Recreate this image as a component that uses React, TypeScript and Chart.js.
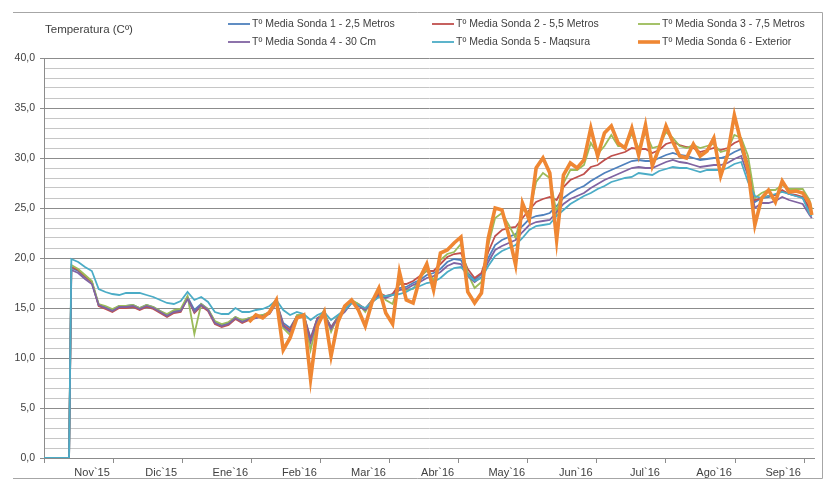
import React, { useEffect, useRef } from 'react';
import { Chart, registerables } from 'chart.js';

Chart.register(...registerables);

// Days counted from the start of the x axis (early October 2015)
const days = [
  0, 11,
  12, 15, 18, 21, 24, 27, 30, 33, 36, 39,
  42, 45, 48, 51, 54, 57, 60, 63, 66, 69,
  72, 75, 78, 81, 84, 87, 90, 93, 96, 99,
  102, 105, 108, 111, 114, 117, 120, 123, 126, 129,
  132, 135, 138, 141, 144, 147, 150, 153, 156, 159,
  162, 165, 168, 171, 174, 177, 180, 183, 186, 189,
  192, 195, 198, 201, 204, 207, 210, 213, 216, 219,
  222, 225, 228, 231, 234, 237, 240, 243, 246, 249,
  252, 255, 258, 261, 264, 267, 270, 273, 276, 279,
  282, 285, 288, 291, 294, 297, 300, 303, 306, 309,
  312, 315, 318, 321, 324, 327, 330, 333, 336,
  337,
];

const sonda1 = [
  0, 0,
  19.0, 18.7, 18.1, 17.6, 15.3, 15.1, 14.8, 15.2, 15.2, 15.3,
  15.0, 15.3, 15.1, 14.7, 14.3, 14.7, 14.8, 16.1, 14.8, 15.4,
  14.9, 13.6, 13.3, 13.5, 14.1, 13.7, 14.0, 14.1, 14.3, 14.5,
  15.6, 13.5, 13.0, 14.2, 14.3, 12.0, 14.0, 14.4, 13.1, 14.1,
  14.7, 15.6, 15.3, 14.9, 15.7, 16.3, 16.1, 16.4, 17.0, 17.1,
  17.5, 17.8, 18.3, 18.5, 18.9, 19.6, 19.9, 19.8, 18.5, 17.8,
  18.4, 20.0, 21.3, 21.8, 22.1, 22.4, 23.2, 23.9, 24.2, 24.3,
  24.5, 25.2, 26.0, 26.5, 26.9, 27.2, 27.7, 28.1, 28.5, 28.8,
  29.1, 29.4, 29.7, 29.8, 29.7, 29.7, 30.0, 30.3, 30.5, 30.3,
  30.2, 30.0, 29.8, 29.9, 30.0, 30.0, 30.2, 30.6, 30.9, 28.8,
  25.6, 26.0, 26.1, 26.3, 26.7, 26.4, 26.2, 26.0, 24.8,
  24.4,
];

const sonda2 = [
  0, 0,
  19.1, 18.8, 18.2, 17.6, 15.2, 14.9, 14.6, 15.0, 15.0, 15.1,
  14.8, 15.1, 14.9, 14.5, 14.1, 14.5, 14.6, 16.0, 14.5, 15.2,
  14.7, 13.4, 13.1, 13.3, 13.9, 13.5, 13.8, 14.0, 14.2, 14.5,
  15.6, 13.3, 12.8, 14.2, 14.3, 11.8, 14.0, 14.4, 13.0, 14.1,
  14.8, 15.7, 15.4, 14.9, 15.8, 16.5, 16.2, 16.4, 17.4, 17.4,
  17.7, 18.2, 18.7, 18.7, 19.4, 20.1, 20.4, 20.5, 18.9, 18.0,
  18.5, 20.6, 22.2, 22.8, 23.0, 23.1, 24.0, 24.8, 25.6, 25.9,
  26.1, 25.8, 27.1, 27.8, 28.1, 28.4, 29.1, 29.3, 29.8, 30.2,
  30.4, 30.6, 31.0, 30.9, 30.9, 30.5, 30.8, 31.4, 31.6, 31.3,
  31.1, 31.0, 30.6, 30.8, 31.0, 30.8, 31.0, 31.5, 31.8, 29.3,
  25.8, 26.0, 26.2, 26.3, 26.8, 26.4, 26.3, 26.1, 25.0,
  24.4,
];

const sonda3 = [
  0, 0,
  19.3, 18.9, 18.3, 17.7, 15.4, 15.2, 14.9, 15.2, 15.2, 15.3,
  15.0, 15.3, 15.1, 14.7, 14.4, 14.8, 14.9, 16.2, 12.4, 15.4,
  14.9, 13.7, 13.4, 13.6, 14.1, 13.8, 14.0, 14.2, 14.3, 14.6,
  15.6, 13.0, 12.3, 14.3, 14.4, 10.8, 13.8, 14.8, 12.6, 14.2,
  14.9, 15.8, 15.4, 14.6, 15.8, 16.8, 15.8, 15.4, 17.6, 16.8,
  16.9, 18.0, 18.8, 17.8, 19.8, 20.4, 20.6, 21.4, 18.4, 17.0,
  17.6, 21.3, 24.0, 24.5, 23.3, 22.0, 24.8, 24.5, 27.6, 28.5,
  28.0, 24.5, 27.5, 28.8, 28.8, 29.3, 31.5, 30.4, 31.2, 32.3,
  31.2, 31.2, 32.4, 31.0, 32.5, 31.0, 31.2, 32.6, 32.0, 31.2,
  31.0, 31.3, 31.0, 31.2, 31.4, 30.6, 30.8, 32.3, 32.0, 30.2,
  26.0, 26.5, 26.8, 26.8, 27.3, 26.9, 26.9, 26.9, 25.8,
  24.9,
];

const sonda4 = [
  0, 0,
  18.8, 18.5, 17.9, 17.4, 15.3, 15.0, 14.7, 15.1, 15.1, 15.2,
  14.9, 15.2, 15.0, 14.6, 14.2, 14.6, 14.7, 15.9, 14.6, 15.3,
  14.8, 13.5, 13.2, 13.4, 14.0, 13.6, 13.9, 14.0, 14.2, 14.4,
  15.5, 13.2, 12.6, 14.1, 14.2, 11.6, 13.9, 14.3, 12.9, 14.0,
  14.6, 15.5, 15.2, 14.8, 15.6, 16.2, 16.0, 16.3, 16.8, 16.9,
  17.3, 17.6, 18.0, 18.2, 18.6, 19.2, 19.5, 19.4, 18.2, 17.6,
  18.1, 19.6, 20.8, 21.2, 21.5, 21.8, 22.6, 23.3, 23.6, 23.7,
  23.8, 24.6, 25.4, 25.9, 26.2, 26.5, 27.0, 27.4, 27.8, 28.1,
  28.4, 28.7, 29.0, 29.1, 29.0, 29.0, 29.3, 29.6, 29.8, 29.6,
  29.5, 29.3, 29.1, 29.2, 29.3, 29.3, 29.5, 29.9, 30.2, 28.2,
  25.0, 25.5, 25.5, 25.7, 26.1, 25.8, 25.6, 25.4, 24.3,
  24.0,
];

const sonda5 = [
  0, 0,
  19.9, 19.6, 19.1, 18.7, 16.9, 16.6, 16.4, 16.3, 16.5, 16.5,
  16.5, 16.3, 16.1, 15.8, 15.5, 15.4, 15.7, 16.6, 15.8, 16.1,
  15.6, 14.6, 14.4, 14.4, 15.0, 14.6, 14.6, 14.8, 14.9, 15.2,
  15.8, 14.8, 14.3, 14.6, 14.4, 13.8, 14.3, 14.6, 13.8, 14.3,
  14.8, 15.5, 15.3, 15.0, 15.6, 16.1, 16.2, 16.3, 16.4, 16.6,
  17.0, 17.2, 17.5, 17.6, 18.0, 18.6, 19.0, 19.1, 18.3, 17.7,
  18.0, 19.2, 20.2, 20.7, 21.0, 21.3, 22.0, 22.8, 23.2, 23.3,
  23.4, 24.2, 24.8, 25.4, 25.8, 26.2, 26.5, 26.9, 27.2, 27.6,
  27.8, 28.0, 28.1, 28.5, 28.4, 28.3, 28.7, 28.9, 29.1, 29.0,
  29.0, 28.8, 28.6, 28.8, 28.8, 28.8, 29.0, 29.4, 29.6, 27.6,
  26.2, 26.0, 26.2, 26.4, 26.6, 26.4, 26.2, 26.0, 24.4,
  24.2,
];

const sonda6 = [
  null, null,
  null, null, null, null, null, null, null, null, null, null,
  null, null, null, null, null, null, null, null, null, null,
  null, null, null, null, null, null, 13.6, 14.3, 14.0, 14.6,
  15.8, 10.8, 12.0, 14.0, 14.3, 7.9, 13.2, 14.6, 10.2, 13.6,
  15.2, 15.8, 14.8, 13.2, 15.6, 17.0, 14.5, 13.4, 18.6, 15.8,
  15.5, 18.0, 19.4, 16.8, 20.5, 20.8, 21.5, 22.1, 16.6, 15.5,
  16.5, 22.0, 25.0, 24.8, 22.3, 19.3, 25.5, 23.8, 29.0, 30.0,
  28.5, 21.8, 28.3, 29.5, 29.0, 29.8, 33.0, 30.2, 32.5, 33.2,
  31.5, 31.0, 33.0, 30.3, 33.3, 29.2, 31.0, 33.2, 31.6, 30.2,
  30.0, 31.4, 30.2, 30.7, 32.0, 28.2, 30.3, 34.3, 31.5, 28.8,
  23.3, 26.0, 26.8, 25.6, 27.7, 26.6, 26.7, 26.5, 25.5,
  24.3,
];

const seriesLabels = [
  'Tº Media Sonda 1 - 2,5 Metros',
  'Tº Media Sonda 2 - 5,5 Metros',
  'Tº Media Sonda 3 - 7,5 Metros',
  'Tº Media Sonda 4 - 30 Cm',
  'Tº Media Sonda 5 - Maqsura',
  'Tº Media Sonda 6 - Exterior',
];

const monthLabels = ['', 'Nov`15', 'Dic`15', 'Ene`16', 'Feb`16', 'Mar`16', 'Abr`16', 'May`16', 'Jun`16', 'Jul`16', 'Ago`16', 'Sep`16'];
const monthStep = 30.33;
const axisTitle = 'Temperatura (Cº)';

const colors = ['#4F81BD', '#C0504D', '#9BBB59', '#8064A2', '#4BACC6', '#EF8733'];
const widths = [1.8, 1.8, 1.8, 1.8, 1.8, 3.6];

const FONT = '"Liberation Sans", Arial, sans-serif';
const TEXT = '#404040';

const decor = {
  id: 'decor',
  afterDraw(chart: any) {
    const ctx = chart.ctx;
    ctx.save();
    ctx.strokeStyle = '#a6a6a6';
    ctx.lineWidth = 1;
    ctx.beginPath();
    ctx.moveTo(13, 12.5);
    ctx.lineTo(822.5, 12.5);
    ctx.lineTo(822.5, 478.5);
    ctx.lineTo(13, 478.5);
    ctx.stroke();

    ctx.fillStyle = TEXT;
    ctx.font = '11.5px ' + FONT;
    ctx.textBaseline = 'middle';
    ctx.textAlign = 'left';
    ctx.fillText(axisTitle, 45, 30);

    const colX = [228, 432, 638];
    const rowY = [24, 42];
    ctx.font = '10.5px ' + FONT;
    chart.data.datasets.forEach((ds: any, i: number) => {
      const x = colX[i % 3];
      const y = rowY[Math.floor(i / 3)];
      ctx.strokeStyle = ds.borderColor;
      ctx.lineWidth = ds.borderWidth;
      ctx.beginPath();
      ctx.moveTo(x, y);
      ctx.lineTo(x + 22, y);
      ctx.stroke();
      ctx.fillStyle = TEXT;
      ctx.fillText(ds.label, x + 24, y);
    });
    ctx.restore();
  },
};

export default function App() {
  const ref = useRef<HTMLCanvasElement>(null);
  useEffect(() => {
    if (!ref.current) return;
    const all = [sonda1, sonda2, sonda3, sonda4, sonda5, sonda6];
    const datasets = all.map((s, k) => ({
      label: seriesLabels[k],
      data: days.map((d, i) => ({ x: d, y: s[i] })),
      borderColor: colors[k],
      backgroundColor: colors[k],
      borderWidth: widths[k],
      pointRadius: 0,
      tension: 0,
      fill: false,
      order: 6 - k,
      spanGaps: false,
    }));
    const chart = new Chart(ref.current, {
      type: 'line',
      data: { datasets },
      options: {
        animation: false,
        responsive: true,
        maintainAspectRatio: false,
        layout: { padding: { left: 0, right: 10, top: 58, bottom: 0 } },
        plugins: { legend: { display: false }, tooltip: { enabled: false } },
        scales: {
          x: {
            type: 'linear',
            min: 0,
            max: 338,
            afterBuildTicks: (scale: any) => {
              scale.ticks = monthLabels.map((_, i) => ({ value: i * monthStep }));
            },
            afterFit: (scale: any) => { scale.height = 22; },
            ticks: {
              autoSkip: false,
              maxRotation: 0,
              labelOffset: -21,
              padding: 3,
              color: TEXT,
              font: { family: FONT, size: 11 },
              callback: (_v: any, i: number) => monthLabels[i] ?? '',
            },
            grid: { drawOnChartArea: false, drawTicks: true, tickLength: 5, tickColor: '#8c8c8c' },
            border: { color: '#8c8c8c', width: 1 },
          },
          y: {
            min: 0,
            max: 40,
            afterFit: (scale: any) => { scale.width = 44; },
            ticks: {
              stepSize: 1,
              autoSkip: false,
              padding: 5,
              color: TEXT,
              font: { family: FONT, size: 10.5 },
              callback: (v: any) => (Number(v) % 5 === 0 ? Number(v).toFixed(1).replace('.', ',') : ''),
            },
            grid: {
              color: (c: any) => (c.tick && c.tick.value % 5 === 0 ? '#8c8c8c' : '#c6c6c6'),
              tickColor: (c: any) => (c.tick && c.tick.value % 5 === 0 ? '#8c8c8c' : 'rgba(0,0,0,0)'),
              tickLength: 4,
              lineWidth: 1,
            },
            border: { color: '#8c8c8c', width: 1 },
          },
        },
      },
      plugins: [decor],
    });
    return () => chart.destroy();
  }, []);
  return (
    <div style={{ position: 'absolute', left: 0, top: 0, width: 825, height: 480, background: '#fff' }}>
      <canvas ref={ref} />
    </div>
  );
}
